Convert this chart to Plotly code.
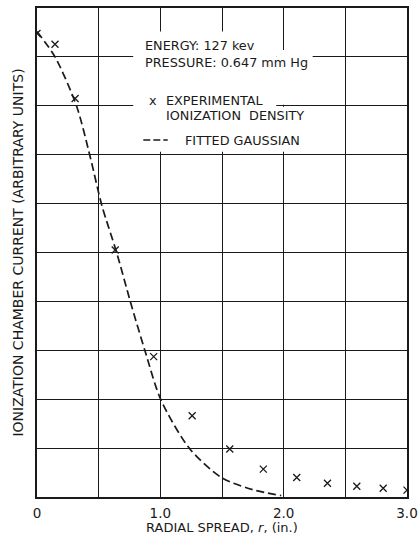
import plotly.graph_objects as go

# Measured ionization density (arbitrary units) vs radial spread r (in.)
r_meas = [0.0, 0.146, 0.309, 0.634, 0.946, 1.258, 1.563, 1.835, 2.106, 2.355, 2.593, 2.807, 3.0]
i_meas = [9.48, 9.26, 8.15, 5.05, 2.87, 1.66, 0.98, 0.57, 0.40, 0.28, 0.22, 0.18, 0.14]

# Fitted Gaussian curve, sampled along r
r_fit = [0.0, 0.146, 0.32, 0.43, 0.525, 0.648, 0.762, 0.878, 1.006, 1.24, 1.5, 1.75, 1.98]
i_fit = [9.52, 9.0, 8.0, 6.97, 5.97, 4.98, 3.95, 2.97, 1.98, 0.98, 0.39, 0.15, 0.03]

x_tick_vals = [0, 1, 2, 3]
x_tick_text = ["0", "1.0", "2.0", "3.0"]

FONT = "DejaVu Sans"
INK = "#1a1a1a"

fig = go.Figure()

fig.add_trace(go.Scatter(
    x=r_fit, y=i_fit, mode="lines",
    line=dict(color=INK, width=1.7, dash="8px,4px", shape="spline", smoothing=0.8),
    hoverinfo="skip", showlegend=False,
))
fig.add_trace(go.Scatter(
    x=r_meas, y=i_meas, mode="markers",
    marker=dict(symbol="x-thin", size=7, line=dict(color=INK, width=1.3)),
    showlegend=False,
))

# Clear the grid behind the key text
white_boxes = [
    (0.78, 1.94, 7.06, 9.52),
    (1.94, 2.235, 8.02, 9.14),
    (1.94, 2.06, 7.06, 7.98),
]
for x0, x1, y0, y1 in white_boxes:
    fig.add_shape(type="rect", xref="x", yref="y", x0=x0, x1=x1, y0=y0, y1=y1,
                  fillcolor="white", line=dict(width=0), layer="above")

# Dashed sample line for the key
fig.add_shape(type="line", xref="x", yref="y", x0=0.862, x1=1.06, y0=7.3, y1=7.3,
              line=dict(color=INK, width=1.6, dash="7px,3px"), layer="above")

key_font = dict(family=FONT, size=12.8, color=INK)
key_lines = [
    (0.862, 9.24, "ENERGY: 127 kev"),
    (0.862, 8.88, "PRESSURE: 0.647 mm Hg"),
    (0.89, 8.1, "x"),
    (1.03, 8.1, "EXPERIMENTAL"),
    (1.03, 7.81, "IONIZATION  DENSITY"),
    (1.185, 7.3, "FITTED GAUSSIAN"),
]
for kx, ky, txt in key_lines:
    fig.add_annotation(x=kx, y=ky, xref="x", yref="y", text=txt, showarrow=False,
                       xanchor="left", yanchor="middle", font=key_font)

# Horizontal axis title, set a little lower than the default placement
fig.add_annotation(x=0.5, y=-0.062, xref="paper", yref="paper",
                   text="RADIAL SPREAD, <i>r</i>, (in.)", showarrow=False,
                   xanchor="center", yanchor="middle",
                   font=dict(family=FONT, size=13, color=INK))

fig.update_layout(
    width=418, height=539,
    margin=dict(l=37, r=11, t=8, b=42),
    paper_bgcolor="white", plot_bgcolor="white",
    font=dict(family=FONT, size=12, color=INK),
)

fig.update_xaxes(
    range=[0, 3], tickvals=x_tick_vals, ticktext=x_tick_text,
    showgrid=True, gridcolor=INK, gridwidth=1.2,
    minor=dict(dtick=0.5, showgrid=True, gridcolor=INK, gridwidth=1.2),
    showline=True, linecolor=INK, linewidth=1.6, mirror=True,
    ticks="", zeroline=False, tickfont=dict(family=FONT, size=13.5),
    ticklabelstandoff=3, automargin=False,
)
fig.update_yaxes(
    range=[0, 10], dtick=1, showticklabels=False,
    showgrid=True, gridcolor=INK, gridwidth=1.2,
    showline=True, linecolor=INK, linewidth=1.6, mirror=True,
    ticks="", zeroline=False, automargin=False,
    title=dict(text="IONIZATION CHAMBER CURRENT (ARBITRARY UNITS)",
               font=dict(family=FONT, size=14), standoff=8),
)

fig.write_html("out.html")
